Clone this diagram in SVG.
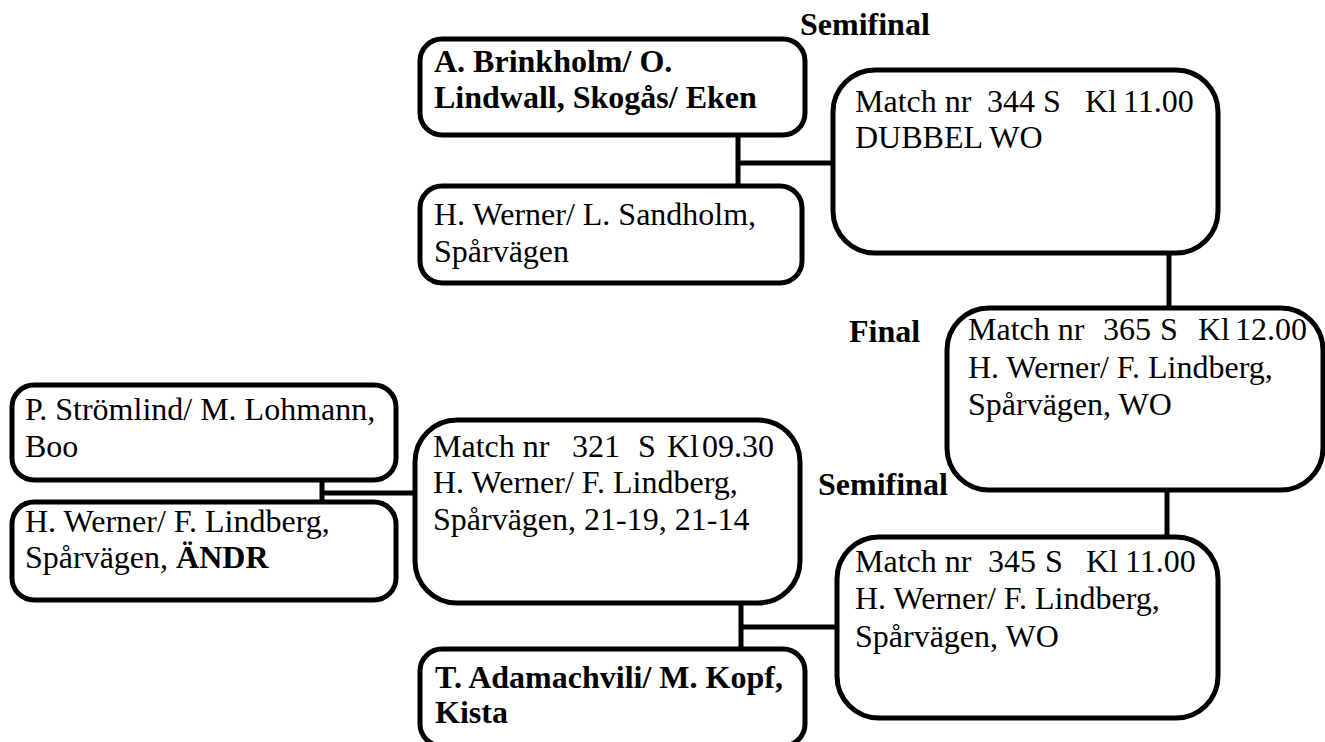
<svg xmlns="http://www.w3.org/2000/svg" width="1325" height="742" viewBox="0 0 1325 742">
<style>
.box{fill:#fff;stroke:#000;stroke-width:5}
.con{stroke:#000;stroke-width:5;fill:none}
text{font-family:"Liberation Serif","Times New Roman",serif;font-size:32px;fill:#000}
.b{font-weight:bold}
</style>
<rect width="1325" height="742" fill="#fff"/>
<g id="connectors">
<path class="con" d="M738 135V186M738 163H833"/>
<path class="con" d="M1169 253V308"/>
<path class="con" d="M1167 490V537"/>
<path class="con" d="M322 480V502M322 493H415"/>
<path class="con" d="M741 603V649M741 627H837"/>
</g>
<g id="labels">
<text class="b" x="800" y="35">Semifinal</text>
<text class="b" x="849" y="342">Final</text>
<text class="b" x="818" y="495">Semifinal</text>
</g>
<g id="n_brinkholm">
<rect class="box" x="420" y="39" width="385" height="96" rx="22"/>
<text class="b" x="434" y="72">A. Brinkholm/ O.</text>
<text class="b" x="434" y="108">Lindwall, Skogås/ Eken</text>
</g>
<g id="n_sandholm">
<rect class="box" x="420" y="186" width="382" height="97" rx="22"/>
<text x="434" y="225">H. Werner/ L. Sandholm,</text>
<text x="434" y="262">Spårvägen</text>
</g>
<g id="n_m344">
<rect class="box" x="833" y="70" width="385" height="183" rx="42"/>
<text y="112"><tspan x="855">Match nr</tspan><tspan x="987">344</tspan><tspan x="1043">S</tspan><tspan x="1085">Kl</tspan><tspan x="1123">11.00</tspan></text>
<text x="855" y="148">DUBBEL WO</text>
</g>
<g id="n_m365">
<rect class="box" x="947" y="308" width="376" height="182" rx="42"/>
<text y="340"><tspan x="968">Match nr</tspan><tspan x="1103">365</tspan><tspan x="1160">S</tspan><tspan x="1198">Kl</tspan><tspan x="1235">12.00</tspan></text>
<text x="968" y="378">H. Werner/ F. Lindberg,</text>
<text x="968" y="415">Spårvägen, WO</text>
</g>
<g id="n_stromlind">
<rect class="box" x="12" y="385" width="384" height="95" rx="22"/>
<text x="25" y="420">P. Strömlind/ M. Lohmann,</text>
<text x="25" y="457">Boo</text>
</g>
<g id="n_werner_andr">
<rect class="box" x="12" y="502" width="384" height="98" rx="22"/>
<text x="25" y="532">H. Werner/ F. Lindberg,</text>
<text x="25" y="568">Spårvägen, <tspan class="b">ÄNDR</tspan></text>
</g>
<g id="n_m321">
<rect class="box" x="415" y="420" width="385" height="183" rx="42"/>
<text y="457"><tspan x="433">Match nr</tspan><tspan x="572">321</tspan><tspan x="638">S</tspan><tspan x="667">Kl</tspan><tspan x="702">09.30</tspan></text>
<text x="433" y="493">H. Werner/ F. Lindberg,</text>
<text x="433" y="530">Spårvägen, 21-19, 21-14</text>
</g>
<g id="n_adamachvili">
<rect class="box" x="420" y="649" width="385" height="97" rx="22"/>
<text class="b" x="435" y="688">T. Adamachvili/ M. Kopf,</text>
<text class="b" x="435" y="723">Kista</text>
</g>
<g id="n_m345">
<rect class="box" x="837" y="537" width="381" height="181" rx="42"/>
<text y="572"><tspan x="855">Match nr</tspan><tspan x="988">345</tspan><tspan x="1045">S</tspan><tspan x="1086">Kl</tspan><tspan x="1125">11.00</tspan></text>
<text x="855" y="609">H. Werner/ F. Lindberg,</text>
<text x="855" y="647">Spårvägen, WO</text>
</g>
</svg>
